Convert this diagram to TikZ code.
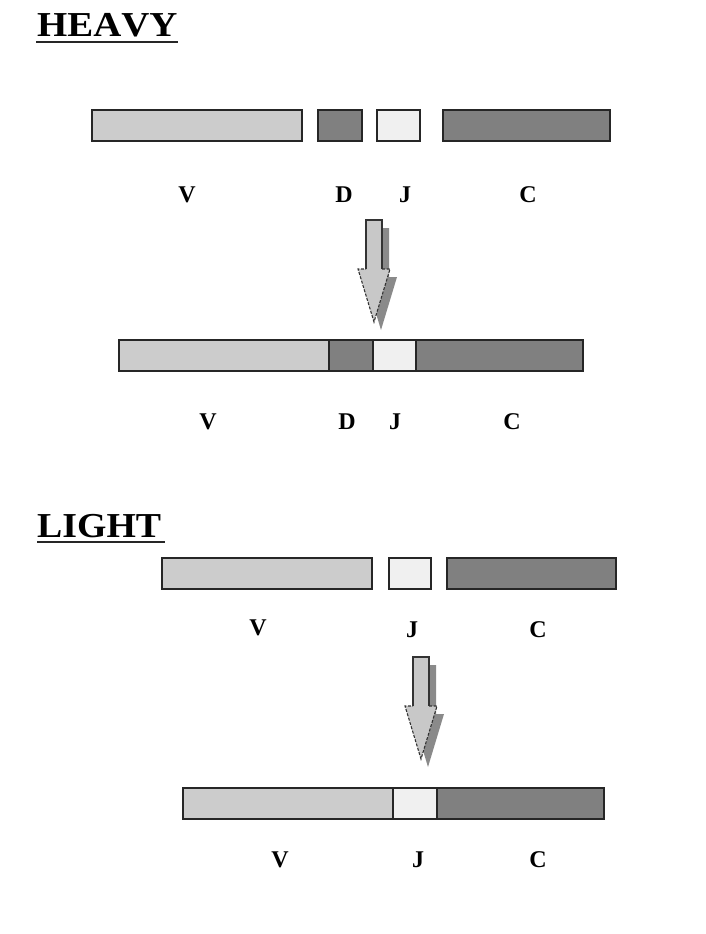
\documentclass[tikz,border=0pt]{standalone}
\usepackage{fontspec}
\usepackage{graphicx}
\setmainfont{Liberation Serif}
\definecolor{vgray}{HTML}{CCCCCC}
\definecolor{dgray}{HTML}{808080}
\definecolor{jgray}{HTML}{F0F0F0}
\definecolor{agray}{HTML}{C8C8C8}
\definecolor{sgray}{HTML}{8A8A8A}
\tikzset{
  seg/.style={draw=black!85, line width=1.6pt, inner sep=0pt, outer sep=0pt, minimum height=31pt},
  vseg/.style={seg, fill=vgray, minimum width=210pt},
  dseg/.style={seg, fill=dgray, minimum width=44pt},
  jseg/.style={seg, fill=jgray, minimum width=43pt},
  cseg/.style={seg, fill=dgray, minimum width=167pt},
  lab/.style={font=\fontsize{24}{26}\selectfont\bfseries, inner sep=0pt},
  ttl/.style={font=\fontsize{35}{38}\selectfont\bfseries\addfontfeature{Kerning=Off}, inner sep=0pt, anchor=base west},
  uline/.style={line width=2pt, black!85},
}
\newcommand\blockarrow[1]{%
  \begin{scope}[shift={#1}]
    \fill[sgray] (7,8) -- (23,8) -- (23,57) -- (31,57) -- (15,110) -- (-1,57) -- (7,57) -- cycle;
    \fill[agray] (0,0) -- (16,0) -- (16,49) -- (24,49) -- (8,102) -- (-8,49) -- (0,49) -- cycle;
    \draw[line width=1.1pt, black!80] (0,49) -- (0,0) -- (16,0) -- (16,49);
    \draw[line width=1.1pt, black!80, dash pattern=on 3pt off 1.5pt] (16,49) -- (24,49) -- (8,102) -- (-8,49) -- (0,49);
  \end{scope}}
\begin{document}
\begin{tikzpicture}[x=1pt,y=-1pt]
\useasboundingbox (0,0) rectangle (706,934);
% HEAVY
\node[ttl] (heavy) at (37,37) {\scalebox{1.11}[1]{HEAVY}};
\coordinate (hu1) at (36,42);
\coordinate (hu2) at (178,42);
\draw[uline] (hu1) -- (hu2);
\node[vseg] (h1v) at (197,125.5) {};
\node[dseg] (h1d) at (340,125.5) {};
\node[jseg] (h1j) at (398.5,125.5) {};
\node[cseg] (h1c) at (526.5,125.5) {};
\node[lab] (h1vl) at (187,195) {V};
\node[lab] (h1dl) at (344,195) {D};
\node[lab] (h1jl) at (405,195) {J};
\node[lab] (h1cl) at (528,195) {C};
\blockarrow{(366,220)}
\node[vseg] (h2v) at (224,355.5) {};
\node[dseg] (h2d) at (351,355.5) {};
\node[jseg] (h2j) at (394.5,355.5) {};
\node[cseg] (h2c) at (499.5,355.5) {};
\node[lab] (h2vl) at (208,422) {V};
\node[lab] (h2dl) at (347,422) {D};
\node[lab] (h2jl) at (395,422) {J};
\node[lab] (h2cl) at (512,422) {C};
% LIGHT
\node[ttl] (light) at (37,537) {\scalebox{1.08}[1]{LIGHT}};
\coordinate (lu1) at (37,542);
\coordinate (lu2) at (165,542);
\draw[uline] (lu1) -- (lu2);
\node[vseg] (l1v) at (267,573.5) {};
\node[jseg, minimum width=42pt] (l1j) at (410,573.5) {};
\node[cseg, minimum width=169pt] (l1c) at (531.5,573.5) {};
\node[lab] (l1vl) at (258,628) {V};
\node[lab] (l1jl) at (412,630) {J};
\node[lab] (l1cl) at (538,630) {C};
\blockarrow{(413,657)}
\node[vseg] (l2v) at (288,803.5) {};
\node[jseg, minimum width=44pt] (l2j) at (415,803.5) {};
\node[cseg] (l2c) at (520.5,803.5) {};
\node[lab] (l2vl) at (280,860) {V};
\node[lab] (l2jl) at (418,860) {J};
\node[lab] (l2cl) at (538,860) {C};
\end{tikzpicture}
\end{document}
